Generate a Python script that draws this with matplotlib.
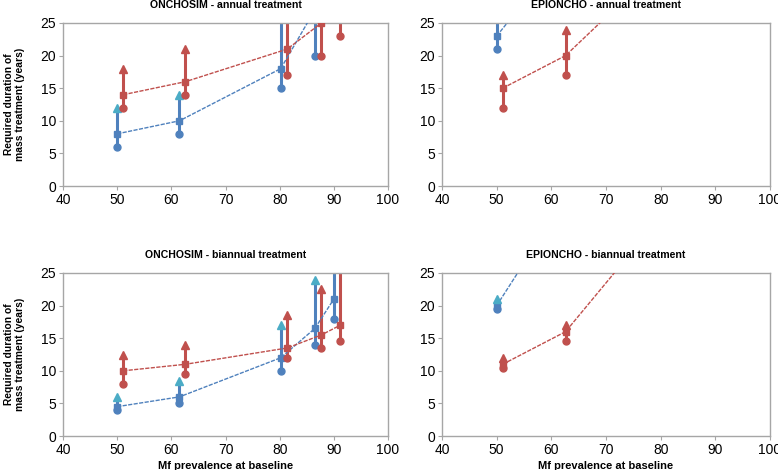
import matplotlib
matplotlib.use("Agg")
import matplotlib.pyplot as plt
import numpy as np

plt.rcParams['font.family'] = ['Liberation Sans', 'DejaVu Sans']

# ---- data ----
x_blue = [50.0, 61.5, 80.2, 86.5, 90.0]
x_red = [51.1, 62.6, 81.4, 87.7, 91.2]

# ONCHOSIM annual
oa_blue_mid = [8, 10, 18, 27, 32]
oa_blue_low = [6, 8, 15, 20, 28]
oa_blue_up = [12, 14, 30, 32, 36]
oa_red_mid = [14, 16, 21, 25, 30]
oa_red_low = [12, 14, 17, 20, 23]
oa_red_up = [18, 21, 30, 32, 36]

# EPIONCHO annual
ea_blue_mid = [23, 35, 40, 42, 44]
ea_blue_low = [21, 33, 38, 40, 42]
ea_blue_up = [30, 40, 45, 47, 49]
ea_red_mid = [15, 20, 35, 38, 40]
ea_red_low = [12, 17, 32, 35, 37]
ea_red_up = [17, 24, 40, 42, 44]

# ONCHOSIM biannual
ob_blue_mid = [4.5, 6, 12, 16.5, 21]
ob_blue_low = [4, 5, 10, 14, 18]
ob_blue_up = [6, 8.5, 17, 24, 30]
ob_red_mid = [10, 11, 13.5, 15.5, 17]
ob_red_low = [8, 9.5, 12, 13.5, 14.5]
ob_red_up = [12.5, 14, 18.5, 22.5, 30]

# EPIONCHO biannual
eb_blue_mid = [20, 35, 40, 42, 44]
eb_blue_low = [19.5, 33, 38, 40, 42]
eb_blue_up = [21, 38, 44, 46, 48]
eb_red_mid = [11, 16, 35, 38, 40]
eb_red_low = [10.5, 14.5, 32, 35, 37]
eb_red_up = [12, 17, 38, 41, 43]

titles = ["ONCHOSIM - annual treatment", "EPIONCHO - annual treatment",
          "ONCHOSIM - biannual treatment", "EPIONCHO - biannual treatment"]
panels = [
    (oa_blue_mid, oa_blue_low, oa_blue_up, oa_red_mid, oa_red_low, oa_red_up),
    (ea_blue_mid, ea_blue_low, ea_blue_up, ea_red_mid, ea_red_low, ea_red_up),
    (ob_blue_mid, ob_blue_low, ob_blue_up, ob_red_mid, ob_red_low, ob_red_up),
    (eb_blue_mid, eb_blue_low, eb_blue_up, eb_red_mid, eb_red_low, eb_red_up),
]
xticks = [40, 50, 60, 70, 80, 90, 100]
yticks = [0, 5, 10, 15, 20, 25]

BLUE = '#4F81BD'
TEAL = '#4BACC6'
RED = '#C0504D'
GRID = '#A6A6A6'

fig = plt.figure(figsize=(7.78, 4.70), dpi=100)
W, H = 778, 470
boxes = [(63, 23, 388, 186), (442, 23, 770, 186),
         (63, 273, 388, 436), (442, 273, 770, 436)]

for i, (box, title, data) in enumerate(zip(boxes, titles, panels)):
    l, t, r, b = box
    ax = fig.add_axes([l / W, 1 - b / H, (r - l) / W, (b - t) / H])
    bm, bl, bu, rm, rl, ru = data
    for xs, mid, low, up, col, tcol in [(x_blue, bm, bl, bu, BLUE, TEAL),
                                        (x_red, rm, rl, ru, RED, RED)]:
        ax.vlines(xs, low, up, color=col, lw=2.2, zorder=2)
        ax.plot(xs, mid, color=col, lw=1.0, ls=(0, (3, 1)), zorder=3)
        ax.plot(xs, mid, ls='none', marker='s', ms=5, color=col, zorder=4)
        ax.plot(xs, low, ls='none', marker='o', ms=5, color=col, zorder=4)
        ax.plot(xs, up, ls='none', marker='^', ms=6, color=tcol, zorder=4)
    ax.set_xlim(40, 100)
    ax.set_ylim(0, 25)
    ax.set_xticks(xticks)
    ax.set_yticks(yticks)
    ax.tick_params(labelsize=10, length=3, color=GRID, pad=2)
    for s in ax.spines.values():
        s.set_color(GRID)
        s.set_linewidth(1.0)
    ax.set_title(title, fontsize=7.6, fontweight='bold', pad=11)
    if i % 2 == 0:
        ax.set_ylabel("Required duration of\nmass treatment (years)",
                      fontsize=7.4, fontweight='bold', labelpad=11)
    if i >= 2:
        ax.set_xlabel("Mf prevalence at baseline", fontsize=8,
                      fontweight='bold', labelpad=3)

fig.savefig("out.png", dpi=100)
